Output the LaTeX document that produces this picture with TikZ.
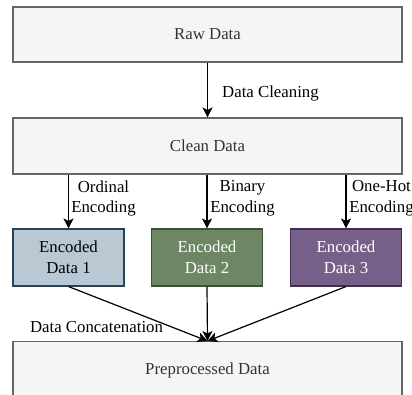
\documentclass[tikz,border=0pt]{standalone}
\usepackage{fontspec}
\setmainfont{Liberation Serif}
\usetikzlibrary{arrows.meta}
\definecolor{greyfill}{HTML}{F5F5F5}
\definecolor{greyline}{HTML}{666666}
\definecolor{greytext}{HTML}{333333}
\definecolor{bluefill}{HTML}{BAC8D3}
\definecolor{blueline}{HTML}{23445D}
\definecolor{greenfill}{HTML}{6D8764}
\definecolor{greenline}{HTML}{3A5431}
\definecolor{purplefill}{HTML}{76608A}
\definecolor{purpleline}{HTML}{432D57}
\tikzset{
  txt/.style={font=\fontsize{16.8}{20.5}\selectfont},
  stage/.style={txt, draw=greyline, fill=greyfill, text=greytext, line width=1.1pt,
    minimum width=389pt, inner sep=0pt},
  encbox/.style={txt, draw=#1line, fill=#1fill, line width=1.1pt, align=center,
    minimum width=111pt, minimum height=57pt, inner sep=0pt},
  lbl/.style={txt, align=center, inner sep=0pt},
  flow/.style={line width=1.2pt, -{Stealth[length=10pt,width=10pt,inset=2.5pt]}},
}
\begin{document}
\begin{tikzpicture}[x=1pt,y=-1pt]
  \clip (0,0) rectangle (412,395);
  \fill[white] (0,0) rectangle (412,395);

  % pipeline stages
  \node[stage, minimum height=55pt] (raw) at (207.5,34.5) {Raw Data};
  \node[stage, minimum height=56pt] (clean) at (207.5,146) {Clean Data};
  \node[encbox=blue] (enc1) at (68.5,257.5) {Encoded\\Data 1};
  \node[encbox=green, text=white] (enc2) at (207,257.5) {Encoded\\Data 2};
  \node[encbox=purple, text=white] (enc3) at (346,257.5) {Encoded\\Data 3};
  \node[stage, minimum height=80pt, anchor=north] (pre) at (207.5,341) {};
  \node[txt, text=greytext, anchor=base] (pretext) at (207.5,374) {Preprocessed Data};

  % connectors
  \draw[flow] (raw.south) -- (clean.north);
  \draw[flow] (enc1.north |- clean.south) -- (enc1.north);
  \draw[flow] (enc2.north |- clean.south) -- (enc2.north);
  \draw[flow] (enc3.north |- clean.south) -- (enc3.north);
  \draw[flow] (enc1.south) -- (pre.north);
  \draw[flow] (enc2.south) -- (pre.north);
  \draw[flow] (enc3.south) -- (pre.north);

  % connector labels
  \node[lbl, anchor=base west] (lclean) at (222,97.5) {Data Cleaning};
  \node[lbl] (lord) at (103.5,198.5) {Ordinal\\Encoding};
  \node[lbl] (lbin) at (242.5,198.5) {Binary\\Encoding};
  \node[lbl] (lhot) at (381.5,198.5) {One-Hot\\Encoding};
  \node[lbl, anchor=base] (lcat) at (96.5,332.5) {Data Concatenation};
\end{tikzpicture}
\end{document}
